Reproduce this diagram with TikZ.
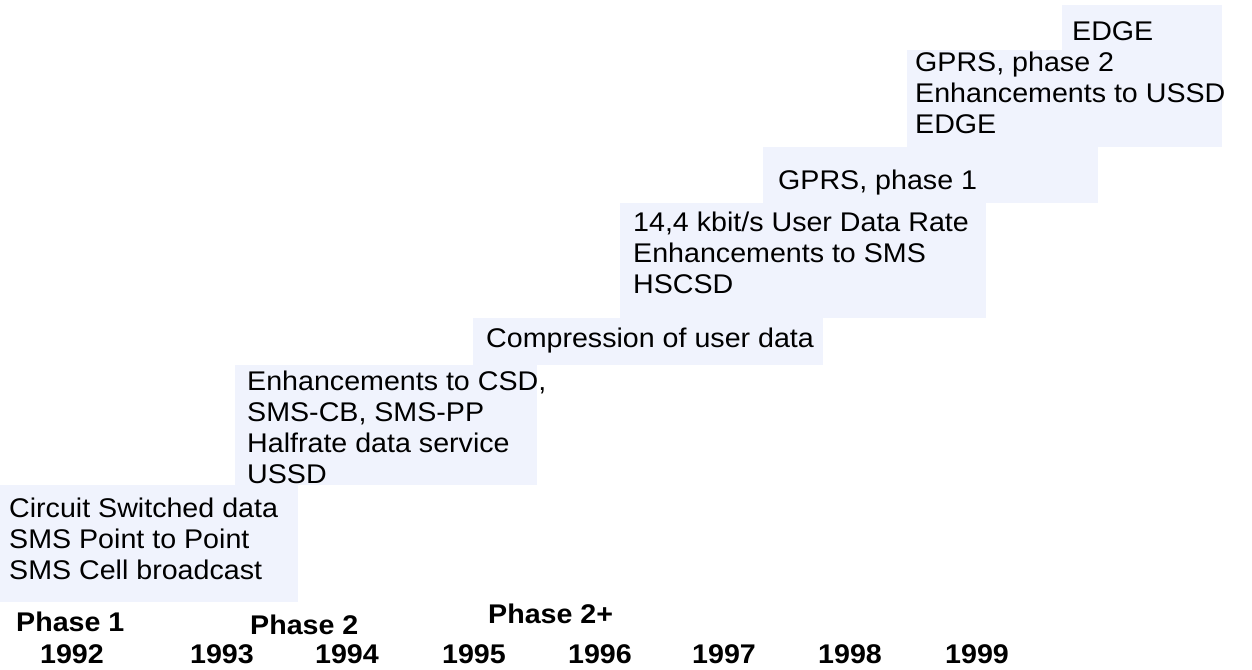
\documentclass[tikz,border=0pt]{standalone}
\usepackage{fontspec}
\setmainfont{Liberation Sans}[FakeStretch=1.06]
\definecolor{relfill}{HTML}{F0F3FD}

\tikzset{
  feat/.style={anchor=base west, align=left, inner sep=0pt, font=\fontsize{27}{31}\selectfont},
  phase/.style={anchor=base west, inner sep=0pt, font=\fontsize{27}{30}\selectfont\bfseries},
  yr/.style={anchor=base, inner sep=0pt, font=\fontsize{27}{30}\selectfont\bfseries},
}

\begin{document}
\begin{tikzpicture}[x=1pt,y=-1pt]
\useasboundingbox (0,0) rectangle (1252,669);
% shaded release blocks
\fill[relfill] (0,485) rectangle (298,602);
\fill[relfill] (235,365) rectangle (537,485);
\fill[relfill] (473,318) rectangle (823,365);
\fill[relfill] (620,203) rectangle (986,318);
\fill[relfill] (763,147) rectangle (1098,203);
\fill[relfill] (907,50) rectangle (1222,147);
\fill[relfill] (1062,5) rectangle (1222,50);

% features per release (anchored on the last line)
\node[feat] (ph1) at (9,579) {Circuit Switched data\\SMS Point to Point\\SMS Cell broadcast};
\node[feat] (ph2) at (247,483) {Enhancements to CSD,\\SMS-CB, SMS-PP\\Halfrate data service\\USSD};
\node[feat] (r96) at (486,347) {Compression of user data};
\node[feat] (r97) at (633,293) {14,4 kbit/s User Data Rate\\Enhancements to SMS\\HSCSD};
\node[feat] (r98) at (778,189) {GPRS, phase 1};
\node[feat] (r99) at (915,133) {GPRS, phase 2\\Enhancements to USSD\\EDGE};
\node[feat] (r00) at (1072,41) {EDGE};

% phases and years
\node[phase] (p1) at (16,631) {Phase 1};
\node[phase] (p2) at (250,634) {Phase 2};
\node[phase] (p3) at (488,623) {Phase 2+};
\foreach \x/\y in {72/1992,222/1993,347/1994,474/1995,600/1996,724/1997,850/1998,977/1999}
  \node[yr] (y\y) at (\x,663) {\y};
\end{tikzpicture}
\end{document}
